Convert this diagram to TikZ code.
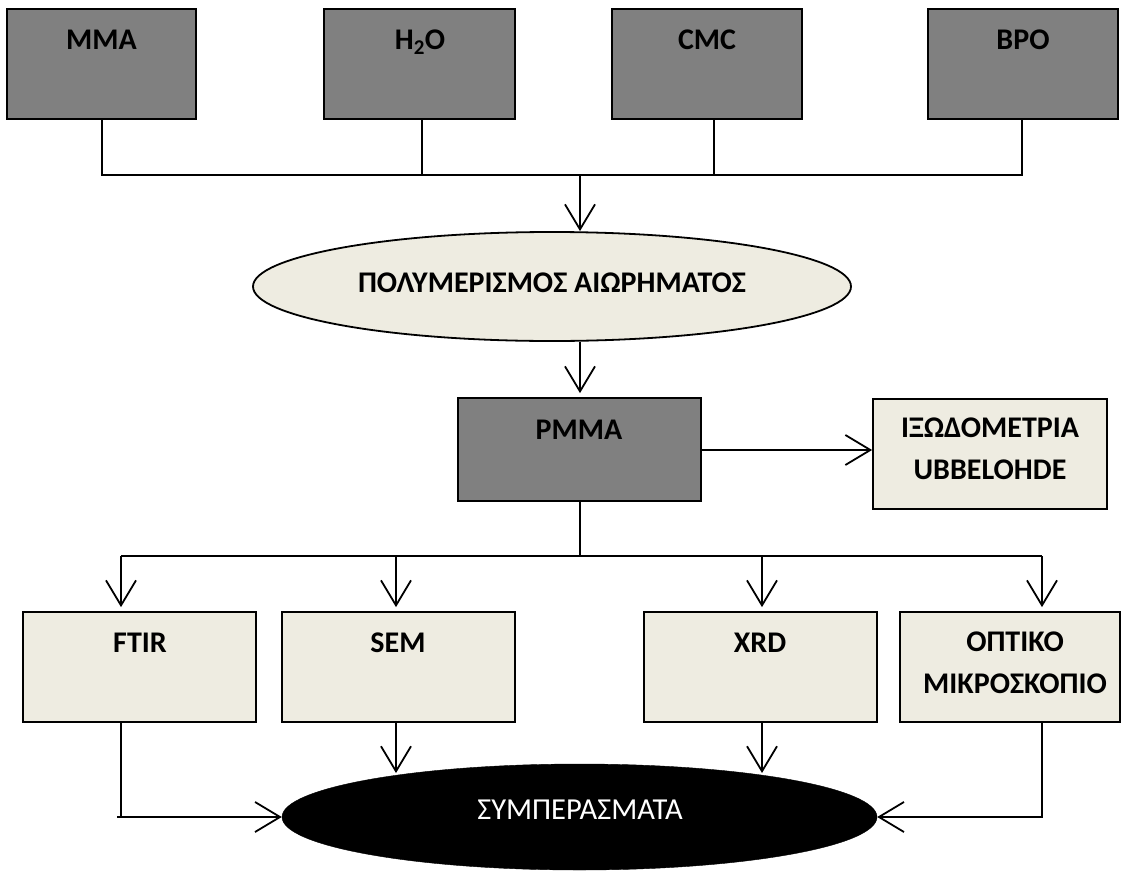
\documentclass[tikz,border=0pt]{standalone}
\usepackage{fontspec}
\setmainfont{Carlito}
\usetikzlibrary{arrows.meta,shapes.geometric}
\definecolor{fillgray}{HTML}{808080}
\definecolor{fillbeige}{HTML}{EEECE1}
\begin{document}
\begin{tikzpicture}[x=1pt,y=-1pt,
  boxbase/.style={draw=black, line width=1.8pt, rectangle, inner sep=0pt, minimum height=110pt},
  graybox/.style={boxbase, fill=fillgray},
  beigebox/.style={boxbase, fill=fillbeige},
  lbl/.style={font=\fontsize{30}{42}\selectfont\bfseries, anchor=base, inner sep=0pt, align=center},
  lbltop/.style={font=\fontsize{30}{42}\selectfont\bfseries, anchor=north, inner sep=0pt, align=center},
  conn/.style={line width=1.8pt},
  arr/.style={conn, -{Straight Barb[length=25pt,width=30pt,line width=1.8pt]}},
]
\fill[white] (0,0) rectangle (1129,870);
\useasboundingbox (0,0) rectangle (1129,870);

% top row
\node[graybox, minimum width=189pt] (mma) at (101.5,64) {};
\node[graybox, minimum width=191pt] (h2o) at (419.5,64) {};
\node[graybox, minimum width=190pt] (cmc) at (707,64) {};
\node[graybox, minimum width=190pt] (bpo) at (1023,64) {};
\node[lbl] (tmma) at (101.5,49) {MMA};
\node[lbl] (th2o) at (420,49) {H\textsubscript{2}O};
\node[lbl] (tcmc) at (707,49) {CMC};
\node[lbl] (tbpo) at (1023,49) {BPO};

% polymerisation ellipse
\node[ellipse, draw=black, line width=1.8pt, fill=fillbeige, inner sep=0pt,
      minimum width=598pt, minimum height=109pt] (poly) at (552,286.5) {};
\node[lbl] (tpoly) at (552,292) {ΠΟΛΥΜΕΡΙΣΜΟΣ ΑΙΩΡΗΜΑΤΟΣ};

% PMMA and viscometry
\node[graybox, minimum width=243pt, minimum height=103pt] (pmma) at (579.5,449.5) {};
\node[lbl] (tpmma) at (579,439) {PMMA};
\node[beigebox, minimum width=234pt] (visc) at (990,454) {};
\node[lbltop] (tvisc) at (990,418) {ΙΞΩΔΟΜΕΤΡΙΑ\\UBBELOHDE};

% bottom row
\node[beigebox, minimum width=233pt] (ftir) at (139.5,667) {};
\node[beigebox, minimum width=233pt] (sem) at (398.5,667) {};
\node[beigebox, minimum width=233pt] (xrd) at (760.5,667) {};
\node[beigebox, minimum width=220pt] (opt) at (1010,667) {};
\node[lbl] (tftir) at (140,652) {FTIR};
\node[lbl] (tsem) at (398,652) {SEM};
\node[lbl] (txrd) at (760,652) {XRD};
\node[lbltop] (topt) at (1015,631.5) {ΟΠΤΙΚΟ\\ΜΙΚΡΟΣΚΟΠΙΟ};

% conclusions ellipse
\node[ellipse, fill=black, draw=black, inner sep=0pt,
      minimum width=595pt, minimum height=106pt] (concl) at (579.5,817) {};
\node[font=\fontsize{30.5}{36}\selectfont, text=white, anchor=base, inner sep=0pt] (tconcl) at (580,819) {ΣΥΜΠΕΡΑΣΜΑΤΑ};

% bus coordinates
\coordinate (busL) at (102,175);
\coordinate (busH) at (422,175);
\coordinate (busM) at (580,175);
\coordinate (busC) at (714,175);
\coordinate (busR) at (1022,175);
\coordinate (b2a) at (121,556);
\coordinate (b2b) at (396,556);
\coordinate (b2m) at (580,556);
\coordinate (b2c) at (762,556);
\coordinate (b2d) at (1042,556);
\coordinate (semin) at (396,775);
\coordinate (xrdin) at (762,775);
\coordinate (pmout) at (701,450);
\coordinate (ftstub) at (117,817);

% top connectors
\draw[conn] (mma.south -| busL) -- (busL) -- (busR) -- (bpo.south -| busR);
\draw[conn] (h2o.south -| busH) -- (busH);
\draw[conn] (cmc.south -| busC) -- (busC);
\draw[arr] (busM) -- (busM |- poly.north);
\draw[arr, shorten >=4pt] ([yshift=-0.5pt]busM |- poly.south) -- (busM |- pmma.north);
\draw[arr] (pmout) -- (pmout -| visc.west);

% distribution bus
\draw[conn] (pmma.south -| b2m) -- (b2m);
\draw[conn] (b2a) -- (b2d);
\draw[arr, shorten >=4pt] (b2a) -- (b2a |- ftir.north);
\draw[arr, shorten >=4pt] (b2b) -- (b2b |- sem.north);
\draw[arr, shorten >=4pt] (b2c) -- (b2c |- xrd.north);
\draw[arr, shorten >=4pt] (b2d) -- (b2d |- opt.north);

% to conclusions
\draw[conn] (ftir.south -| b2a) -- (b2a |- ftstub);
\draw[arr] (ftstub) -- (ftstub -| concl.west);
\draw[arr, shorten >=2pt] (sem.south -| b2b) -- (semin);
\draw[arr, shorten >=2pt] (xrd.south -| b2c) -- (xrdin);
\draw[arr] (opt.south -| b2d) |- (concl.east);
\end{tikzpicture}
\end{document}
